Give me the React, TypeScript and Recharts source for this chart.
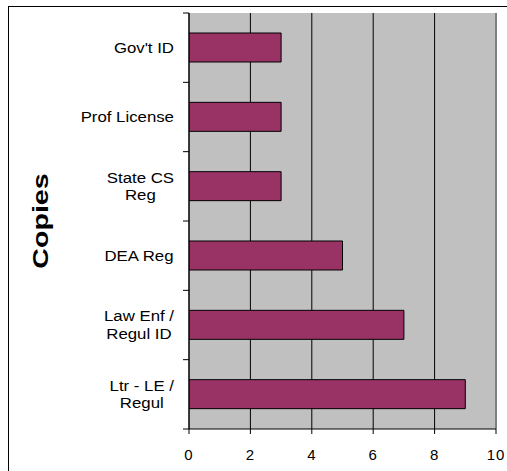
import { BarChart, Bar, XAxis, YAxis, CartesianGrid, ReferenceLine } from "recharts";

// label lines per category, top to bottom
const CATEGORY_LINES: string[][] = [
  ["Gov't ID"],
  ["Prof License"],
  ["State CS", "Reg"],
  ["DEA Reg"],
  ["Law Enf /", "Regul ID"],
  ["Ltr - LE /", "Regul"],
];
const COPIES = [3, 3, 3, 5, 7, 9];
const X_TICKS = [0, 2, 4, 6, 8, 10];

const W = 507;
const H = 471;
const MARGIN = { top: 13, right: 11, bottom: 12, left: 0 };
const X_AXIS_H = 30;
const Y_AXIS_W = 189;
const PLOT_H = H - MARGIN.top - MARGIN.bottom - X_AXIS_H;
const TICK = 6;
const GAP = 9;
const FONT = "'Liberation Sans', Arial, sans-serif";
const STRETCH = 1.12;

const data = CATEGORY_LINES.map((lines, i) => ({ name: lines.join(" "), copies: COPIES[i] }));

let ctx: CanvasRenderingContext2D | null = null;
function textWidth(s: string) {
  if (!ctx) ctx = document.createElement("canvas").getContext("2d");
  if (!ctx) return s.length * 8;
  ctx.font = `15px ${FONT}`;
  return ctx.measureText(s).width;
}

function CategoryTick(props: any) {
  const { x, y, index } = props;
  const lines = CATEGORY_LINES[index] ?? [String(props.payload?.value)];
  const band = PLOT_H / CATEGORY_LINES.length;
  const maxW = Math.max(...lines.map(textWidth));
  const lh = 17.5;
  const lx = x + GAP;
  return (
    <g>
      <line x1={lx} x2={lx + TICK} y1={y - band / 2} y2={y - band / 2} stroke="#000" />
      {index === CATEGORY_LINES.length - 1 && (
        <line x1={lx} x2={lx + TICK} y1={y + band / 2} y2={y + band / 2} stroke="#000" />
      )}
      <g transform={`translate(${x},${y}) scale(${STRETCH},1)`}>
        {lines.map((l, i) => (
          <text key={i} x={-maxW / 2} y={(i - (lines.length - 1) / 2) * lh}
            textAnchor="middle" dominantBaseline="central"
            fontFamily={FONT} fontSize={15} fill="#000">
            {l}
          </text>
        ))}
      </g>
    </g>
  );
}

function CopiesLabel(props: any) {
  const vb = props.viewBox || { x: 0, y: MARGIN.top, width: Y_AXIS_W, height: PLOT_H };
  const cx = vb.x + 40;
  const cy = vb.y + vb.height / 2;
  return (
    <text transform={`translate(${cx},${cy}) rotate(-90) scale(1.3,1)`}
      textAnchor="middle" dominantBaseline="central"
      fontFamily={FONT} fontSize={22} fontWeight="bold" fill="#000">
      Copies
    </text>
  );
}

export default function App() {
  return (
    <div style={{ position: "absolute", left: 0, top: 0, width: W, height: H, background: "#fff" }}>
      <div style={{
        position: "absolute", left: 8, top: 6, width: W, height: H,
        borderTop: "1px solid #000", borderLeft: "1px solid #000",
      }} />
      <div style={{ position: "absolute", left: 0, top: 0 }}>
        <BarChart width={W} height={H} data={data} layout="vertical" margin={MARGIN}>
          <CartesianGrid horizontal={false} stroke="#000" fill="#C0C0C0" fillOpacity={1} />
          <XAxis type="number" domain={[0, 10]} ticks={X_TICKS} height={X_AXIS_H}
            axisLine={{ stroke: "#000" }} tickLine={{ stroke: "#000" }} tickSize={5} tickMargin={15}
            tick={{ fontSize: 15, fontFamily: FONT, fill: "#000", letterSpacing: 1 }}
            allowDataOverflow />
          <YAxis type="category" dataKey="name" width={Y_AXIS_W}
            axisLine={{ stroke: "#000" }} tickLine={false} tickSize={TICK} tickMargin={GAP}
            tick={<CategoryTick />} interval={0}
            label={(p: any) => <CopiesLabel {...p} />} />
          <ReferenceLine x={10} stroke="#808080" strokeWidth={2} />
          <Bar dataKey="copies" fill="#993366" stroke="#000" strokeWidth={1}
            barSize={29} isAnimationActive={false} />
        </BarChart>
      </div>
    </div>
  );
}
